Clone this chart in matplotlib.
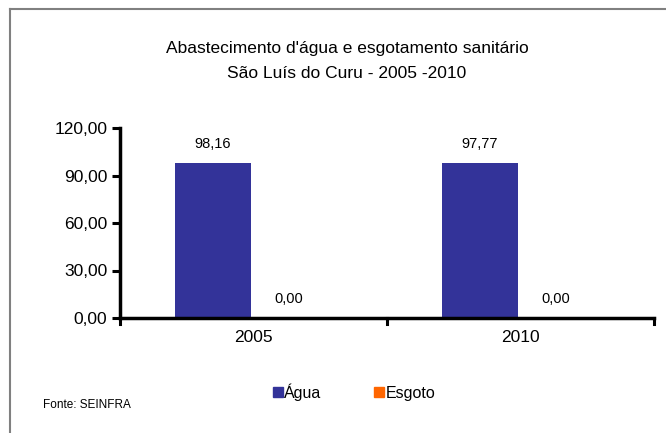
import matplotlib
matplotlib.use("Agg")
import matplotlib.pyplot as plt
from matplotlib.lines import Line2D
from matplotlib.patches import Patch
import numpy as np

plt.rcParams['font.family'] = ['Liberation Sans', 'DejaVu Sans']

categories = ["2005", "2010"]
agua = [98.16, 97.77]
esgoto = [0.00, 0.00]
series_names = ["Água", "Esgoto"]
yticks = [0, 30, 60, 90, 120]
colors = ["#333399", "#FF6600"]

fig = plt.figure(figsize=(6.66, 4.33), dpi=100)
ax = fig.add_axes([120/666, 1-318/433, (654-120)/666, (318-128)/433])

x = np.arange(len(categories))
w = 0.285
b1 = ax.bar(x - w/2 - 0.01, agua, w, color=colors[0], label=series_names[0])
b2 = ax.bar(x + w/2 - 0.01, esgoto, w, color=colors[1], label=series_names[1])

def fmt(v):
    return f"{v:.2f}".replace(".", ",")

for bars, vals in ((b1, agua), (b2, esgoto)):
    for rect, v in zip(bars, vals):
        ax.annotate(fmt(v), (rect.get_x() + rect.get_width()/2, v),
                    xytext=(0, 8.5), textcoords="offset points",
                    ha="center", va="bottom", fontsize=10.5)

ax.set_xlim(-0.5, len(categories) - 0.5)
ax.set_ylim(0, 120)
ax.set_yticks(yticks)
ax.set_yticklabels([fmt(v) for v in yticks], fontsize=12.5)
ax.set_xticks(x)
ax.set_xticklabels(categories, fontsize=12.5)
ax.tick_params(axis='x', length=0, pad=9)
ax.tick_params(axis='y', length=6, width=2.2, direction='out', pad=3)
# category boundary ticks
for b in np.arange(-0.5, len(categories), 1.0):
    ax.plot([b, b], [0, -4], color='black', lw=2.2, clip_on=False, transform=ax.transData)
for s in ['top', 'right']:
    ax.spines[s].set_visible(False)
for s in ['left', 'bottom']:
    ax.spines[s].set_linewidth(2.5)

fig.text(347/666, 1-48/433, "Abastecimento d'água e esgotamento sanitário", ha='center', va='center', fontsize=12.5)
fig.text(347/666, 1-74/433, "São Luís do Curu - 2005 -2010", ha='center', va='center', fontsize=12.5)

handles = [Patch(color=colors[0]), Patch(color=colors[1])]
fig.legend(handles, series_names, loc='center', bbox_to_anchor=(354/666, 1-392/433),
           ncol=2, frameon=False, fontsize=11.5, handlelength=0.6, handleheight=0.6,
           handletextpad=0.1, columnspacing=3.3)

fig.text(43/666, 1-405/433, "Fonte: SEINFRA", ha='left', va='center', fontsize=8.5)

# outer border (top and left)
fig.add_artist(Line2D([10/666, 1], [1-9/433, 1-9/433], color='#808080', lw=1.5))
fig.add_artist(Line2D([10/666, 10/666], [0, 1-9/433], color='#808080', lw=1.5))

fig.savefig("out.png", dpi=100)
